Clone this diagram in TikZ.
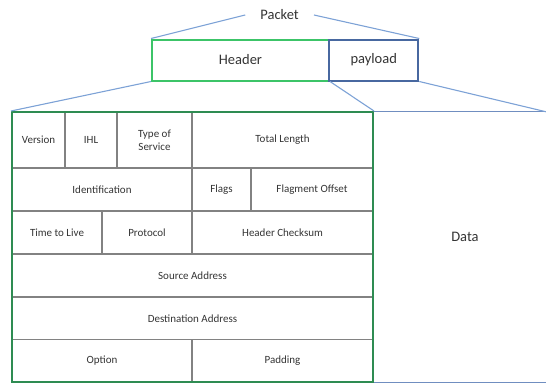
\documentclass[tikz,border=0pt]{standalone}
\usepackage{fontspec}
\setmainfont{Carlito}
\definecolor{txt}{RGB}{52,52,52}
\definecolor{cellgray}{RGB}{130,130,130}
\definecolor{hdrgreen}{RGB}{60,196,104}
\definecolor{tblgreen}{RGB}{46,140,82}
\definecolor{payblue}{RGB}{72,104,160}
\definecolor{linkblue}{RGB}{125,162,214}
\definecolor{datablue}{RGB}{112,142,192}
\tikzset{
  cell/.style={draw=cellgray, line width=1.3pt, inner sep=0pt, text=txt, align=center,
    font=\fontsize{11}{13}\selectfont},
  bigtext/.style={text=txt, font=\fontsize{14.5}{17}\selectfont},
  topbox/.style={bigtext, line width=2pt, inner sep=0pt, minimum height=41pt},
  link/.style={draw=linkblue, line width=1.1pt}
}
\begin{document}
\begin{tikzpicture}[x=1pt,y=-1pt]
\useasboundingbox (0,0) rectangle (546,383);
% table cells
\node[cell, minimum width=53pt, minimum height=56pt] (ver) at (38.5,140) {Version};
\node[cell, minimum width=52pt, minimum height=56pt] (ihl) at (91,140) {IHL};
\node[cell, minimum width=75pt, minimum height=56pt] (tos) at (154.5,140) {Type of\\Service};
\node[cell, minimum width=181pt, minimum height=56pt] (tl) at (282.5,140) {Total Length};
\node[cell, minimum width=180pt, minimum height=43pt] (id) at (102,189.5) {Identification};
\node[cell, minimum width=59pt, minimum height=43pt] (flg) at (221.5,189.5) {Flags};
\node[cell, minimum width=122pt, minimum height=43pt] (fo) at (312,189.5) {Flagment Offset};
\node[cell, minimum width=90pt, minimum height=43pt] (ttl) at (57,232.5) {Time to Live};
\node[cell, minimum width=90pt, minimum height=43pt] (pro) at (147,232.5) {Protocol};
\node[cell, minimum width=181pt, minimum height=43pt] (hc) at (282.5,232.5) {Header Checksum};
\node[cell, minimum width=361pt, minimum height=43pt] (src) at (192.5,275.5) {Source Address};
\node[cell, minimum width=361pt, minimum height=42.5pt] (dst) at (192.5,318.25) {Destination Address};
\node[cell, minimum width=180pt, minimum height=42.5pt] (opt) at (102,360.75) {Option};
\node[cell, minimum width=181pt, minimum height=42.5pt] (pad) at (282.5,360.75) {Padding};
% data region
\node[inner sep=0pt, minimum width=173pt, minimum height=270pt] (datab) at (459.5,247) {};
\draw[draw=datablue, line width=1.3pt] (datab.north east) -- (datab.north west) -- (datab.south west) -- (datab.south east);
\node[bigtext] (datalbl) at (465,237) {Data};
% table outline
\node[draw=tblgreen, line width=2pt, inner sep=0pt, minimum width=361pt, minimum height=270pt] (tbl) at (192.5,247) {};
% top boxes
\node[topbox, draw=hdrgreen, minimum width=177pt] (hdr) at (240.5,60) {Header};
\node[topbox, draw=payblue, minimum width=89pt] (pay) at (373.75,60) {payload};
\node[bigtext, inner xsep=15pt, inner ysep=2pt] (pk) at (279.6,15) {Packet};
% connectors
\draw[link] (pk.west) -- (hdr.north west);
\draw[link] (pk.east) -- (pay.north east);
\draw[link] (hdr.south west) -- (tbl.north west);
\draw[link] (hdr.south east) -- (tbl.north east);
\draw[link] (pay.south east) -- (datab.north east);
\end{tikzpicture}
\end{document}
